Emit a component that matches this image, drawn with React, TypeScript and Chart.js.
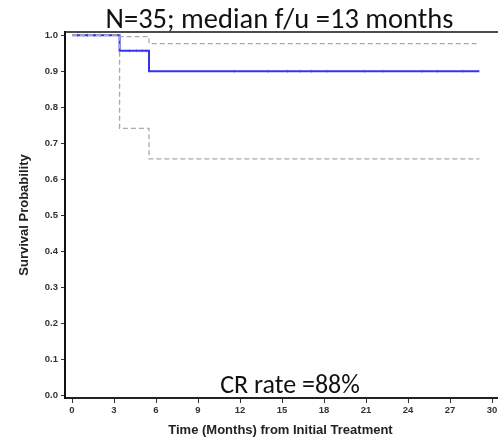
import React, { useEffect, useRef } from "react";
import { Chart, registerables } from "chart.js";

Chart.register(...registerables);

const titleText = "N=35; median f/u =13 months";
const noteText = "CR rate =88%";
const xTitle = "Time (Months) from Initial Treatment";
const yTitle = "Survival Probability";

const xTicks = [0, 3, 6, 9, 12, 15, 18, 21, 24, 27, 30];
const yTicks = [0, 0.1, 0.2, 0.3, 0.4, 0.5, 0.6, 0.7, 0.8, 0.9, 1.0];

// Kaplan-Meier estimate (step points)
const kmTimes = [0, 3.4, 5.5, 29.1];
const kmSurv = [1.0, 0.957, 0.9, 0.9];
// Confidence bounds
const upperSurv = [1.0, 0.996, 0.977, 0.977];
const lowerSurv = [1.0, 0.742, 0.657, 0.657];
// Censoring marks
const censorTimes = [0.4, 0.8, 1.1, 1.6, 2.0, 4.1, 4.6, 5.0, 5.3, 11.6, 14.0, 15.4, 16.3, 17.1, 18.2, 20.9, 22.2, 25.0, 26.1, 27.9];
const censorSurv = [1, 1, 1, 1, 1, 0.957, 0.957, 0.957, 0.957, 0.9, 0.9, 0.9, 0.9, 0.9, 0.9, 0.9, 0.9, 0.9, 0.9, 0.9];

const BLUE = "rgb(52,52,235)";
const GRAY = "rgb(170,170,170)";

const textPlugin = {
  id: "texts",
  afterDraw(chart: any) {
    const { ctx, chartArea } = chart;
    const cx = (chartArea.left + chartArea.right - 12) / 2;
    ctx.save();
    // top frame line
    ctx.strokeStyle = "#111";
    ctx.lineWidth = 1.5;
    ctx.beginPath();
    ctx.moveTo(chartArea.left, chartArea.top);
    ctx.lineTo(chart.width, chartArea.top);
    ctx.stroke();
    ctx.fillStyle = "#111";
    ctx.textAlign = "center";
    ctx.textBaseline = "alphabetic";
    ctx.font = "28.5px Carlito, Lato, 'Open Sans', sans-serif";
    ctx.fillText(titleText, cx, 28);
    ctx.font = "26px Carlito, Lato, 'Open Sans', sans-serif";
    ctx.fillText(noteText, chartArea.left + 225, chartArea.bottom - 5);
    ctx.font = "bold 13px 'Liberation Sans', Arial, sans-serif";
    ctx.fillStyle = "#222";
    ctx.textBaseline = "middle";
    ctx.fillText(xTitle, cx + 1, 430);
    ctx.restore();
  },
};

export default function App() {
  const ref = useRef<HTMLCanvasElement>(null);
  useEffect(() => {
    if (!ref.current) return;
    const pts = (xs: number[], ys: number[]) => xs.map((x, i) => ({ x, y: ys[i] }));
    const chart = new Chart(ref.current, {
      type: "line",
      data: {
        datasets: [
          {
            label: "Upper",
            data: pts(kmTimes, upperSurv),
            borderColor: GRAY,
            borderWidth: 1.3,
            borderDash: [5, 3],
            stepped: "before",
            pointRadius: 0,
            fill: false,
          },
          {
            label: "Lower",
            data: pts(kmTimes, lowerSurv),
            borderColor: GRAY,
            borderWidth: 1.3,
            borderDash: [5, 3],
            stepped: "before",
            pointRadius: 0,
            fill: false,
          },
          {
            label: "KM",
            data: pts(kmTimes, kmSurv),
            borderColor: BLUE,
            borderWidth: 2,
            stepped: "before",
            pointRadius: 0,
            fill: false,
          },
          {
            label: "Censored",
            data: pts(censorTimes, censorSurv),
            showLine: false,
            pointStyle: "line",
            rotation: 90,
            pointRadius: 1.8,
            pointBorderWidth: 1,
            pointBorderColor: "rgba(52,52,235,0.35)",
            pointBackgroundColor: "rgba(52,52,235,0.35)",
          },
        ],
      },
      options: {
        responsive: false,
        animation: false,
        layout: { padding: { left: 0, right: 6, top: 32, bottom: 0 } },
        plugins: {
          legend: { display: false },
          tooltip: { enabled: false },
          title: { display: false },
        },
        scales: {
          x: {
            type: "linear",
            min: -0.5,
            max: 31,
            afterBuildTicks: (s: any) => {
              s.ticks = xTicks.map((v) => ({ value: v }));
            },
            afterFit: (s: any) => {
              s.height = 42;
            },
            grid: {
              drawOnChartArea: false,
              drawTicks: true,
              tickLength: 5,
              color: "#333",
              lineWidth: 1,
            },
            border: { display: true, color: "#222", width: 2 },
            ticks: {
              color: "#333",
              padding: 2,
              maxRotation: 0,
              autoSkip: false,
              font: { family: "'Liberation Sans', Arial, sans-serif", size: 9.5, weight: "bold" },
              callback: (v: any) => String(v),
            },
          },
          y: {
            type: "linear",
            min: -0.006,
            max: 1.009,
            afterBuildTicks: (s: any) => {
              s.ticks = yTicks.map((v) => ({ value: v }));
            },
            afterFit: (s: any) => {
              s.width = 65;
            },
            grid: {
              drawOnChartArea: false,
              drawTicks: true,
              tickLength: 4,
              color: "#333",
              lineWidth: 1,
            },
            border: { display: true, color: "#111", width: 2 },
            ticks: {
              color: "#333",
              padding: 3,
              autoSkip: false,
              font: { family: "'Liberation Sans', Arial, sans-serif", size: 9.5, weight: "bold" },
              callback: (v: any) => Number(v).toFixed(1),
            },
            title: {
              display: true,
              text: yTitle,
              color: "#222",
              padding: { top: 17, bottom: 0 },
              font: { family: "'Liberation Sans', Arial, sans-serif", size: 13, weight: "bold" },
            },
          },
        },
      },
      plugins: [textPlugin],
    } as any);
    return () => chart.destroy();
  }, []);

  return (
    <div style={{ position: "absolute", left: 0, top: 0, width: 498, height: 440, overflow: "hidden", background: "#fff" }}>
      <canvas ref={ref} width={512} height={440} style={{ width: 512, height: 440, display: "block" }} />
    </div>
  );
}
